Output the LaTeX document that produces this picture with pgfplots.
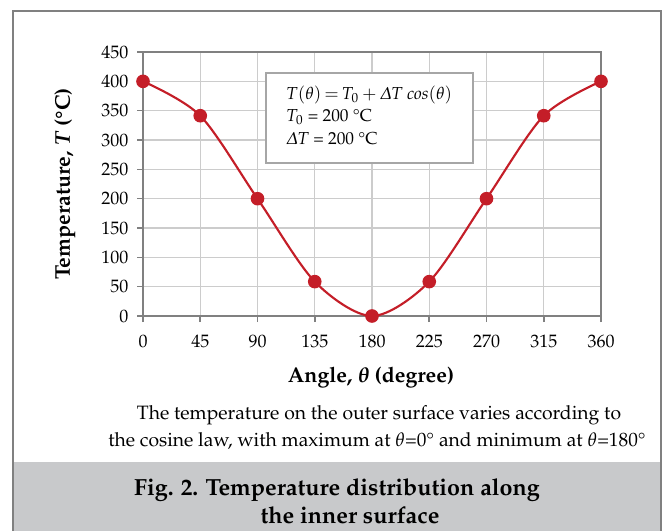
\documentclass[border=0pt]{standalone}
\usepackage[T1]{fontenc}
\usepackage{mathpazo}
\usepackage{pgfplots}
\pgfplotsset{compat=1.18}
\definecolor{curvered}{RGB}{196,30,40}
\definecolor{axisgray}{RGB}{128,128,128}
\definecolor{gridgray}{RGB}{204,204,204}
\definecolor{bandgray}{RGB}{200,201,203}
\begin{document}
\begin{tikzpicture}
% page frame and caption band, in pixel units (y down)
\begin{scope}[x=0.75pt,y=-0.75pt]
\useasboundingbox (0,0) rectangle (667,531);
\fill[bandgray] (13,462) rectangle (661,531);
\draw[axisgray, line width=2.2pt] (13,531) -- (13,11) -- (661,11) -- (661,531);
\end{scope}

\begin{axis}[
    at={(107.25pt,-237pt)}, anchor=south west,
    scale only axis,
    width=343.5pt, height=198pt,
    xmin=0, xmax=360,
    ymin=0, ymax=450,
    xtick={0,45,...,360},
    ytick={0,50,...,450},
    xtick pos=lower, ytick pos=left,
    tick align=outside,
    major tick length=4.5pt,
    grid=major,
    major grid style={gridgray, line width=0.8pt},
    axis line style={axisgray, line width=1.6pt},
    tick style={axisgray, line width=1.2pt},
    tick label style={font=\fontsize{13.5}{15}\selectfont},
    xticklabel style={yshift=-6pt},
    yticklabel style={xshift=-3pt},
    clip=false,
]
\addplot[curvered, line width=1.6pt, smooth,
    mark=*, mark size=4.3pt, mark options={fill=curvered, draw=curvered}]
    coordinates {
    (0,400)(45,341.4)(90,200)(135,58.6)(180,0)(225,58.6)(270,200)(315,341.4)(360,400)
    };
\end{axis}

\begin{scope}[x=0.75pt,y=-0.75pt]
% formula box
\draw[gray!70, line width=0.8pt, fill=white] (266,73) rectangle (473,163);
\begin{scope}[every node/.style={anchor=west, inner sep=0pt, font=\fontsize{13}{15}\selectfont}]
\node at (286,95) {$T(\theta)\,{=}\,T_0 + \mathnormal{\Delta} T\ \mathit{cos}(\theta)$};
\node at (286,117) {$T_0$ = 200 \textdegree C};
\node at (286,139) {$\mathnormal{\Delta} T$ = 200 \textdegree C};
\end{scope}
% axis titles
\node[rotate=90, font=\fontsize{16}{18}\selectfont\bfseries] at (65,184)
    {Temperature, \textit{T} (\textdegree C)};
\node[font=\fontsize{16}{18}\selectfont\bfseries] at (371,378)
    {Angle, {\boldmath$\theta$} (degree)};
% caption
\begin{scope}[every node/.style={inner sep=0pt}]
\node[font=\fontsize{14.5}{16}\selectfont] at (379,415)
    {The temperature on the outer surface varies according to};
\node[font=\fontsize{14.5}{16}\selectfont] at (377,441)
    {the cosine law, with maximum at $\theta$=0\textdegree{} and minimum at $\theta$=180\textdegree};
\node[font=\fontsize{17.5}{19}\selectfont\bfseries] at (337,490)
    {Fig. 2. Temperature distribution along};
\node[font=\fontsize{17.5}{19}\selectfont\bfseries] at (350,515)
    {the inner surface};
\end{scope}
\end{scope}
\end{tikzpicture}
\end{document}
